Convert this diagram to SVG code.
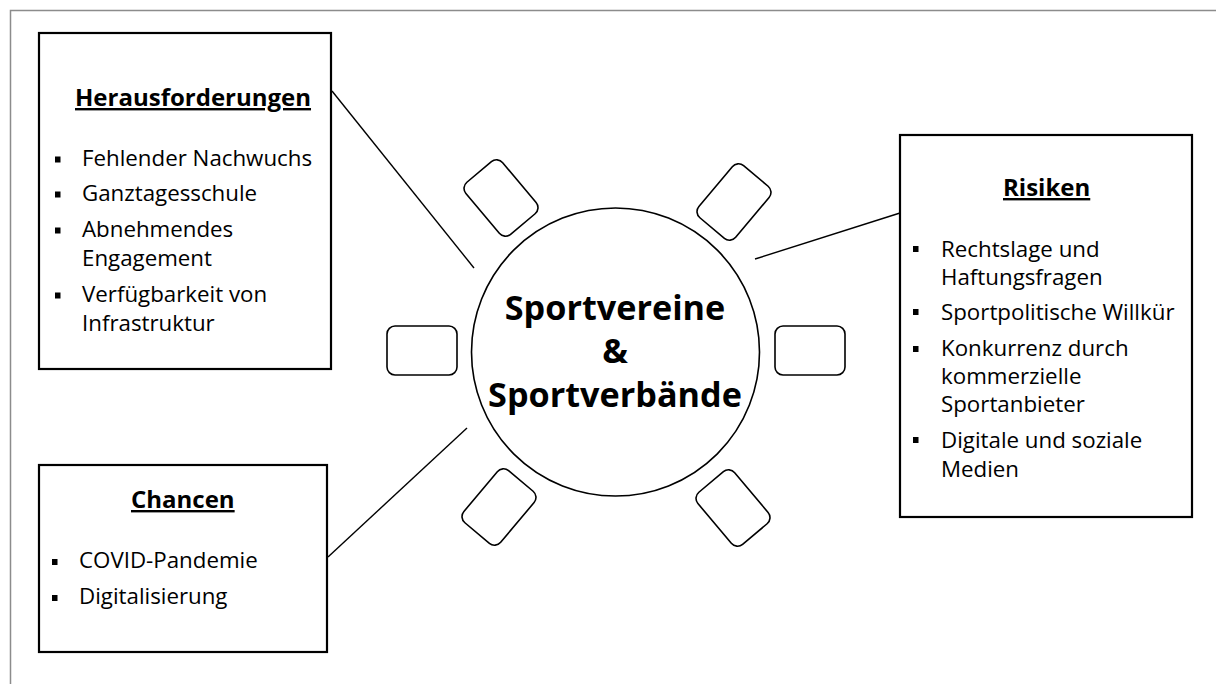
<svg xmlns="http://www.w3.org/2000/svg" width="1216" height="684" viewBox="0 0 1216 684">
<style>
.page{fill:none;stroke:#8c8c8c;stroke-width:1.5}
.box{fill:#fff;stroke:#000;stroke-width:2.2}
.chair{fill:#fff;stroke:#000;stroke-width:1.6}
.table{fill:#fff;stroke:#000;stroke-width:1.6}
.conn{stroke:#000;stroke-width:1.4;fill:none}
.t{font-family:"Open Sans","Noto Sans","Liberation Sans",sans-serif;font-size:22.3px;fill:#000}
.h{font-family:"Open Sans","Noto Sans","Liberation Sans",sans-serif;font-size:24px;font-weight:bold;fill:#000;text-decoration:underline}
.c{font-family:"Open Sans","Noto Sans","Liberation Sans",sans-serif;font-size:34.2px;font-weight:bold;fill:#000;text-anchor:middle}
.b{fill:#000}
</style>
<path class="page" d="M10.5 684 V10.5 H1216"/>
<g id="connectors">
<line class="conn" x1="332" y1="91" x2="474" y2="268"/>
<line class="conn" x1="755" y1="259" x2="900" y2="213"/>
<line class="conn" x1="328" y1="557" x2="467" y2="428"/>
</g>
<g id="table">
<rect class="chair" x="387" y="326" width="70" height="49" rx="8"/>
<rect class="chair" x="775" y="326" width="70" height="49" rx="8"/>
<rect class="chair" x="-24" y="-34" width="48" height="68" rx="8" transform="translate(501 198) rotate(-40)"/>
<rect class="chair" x="-24" y="-34" width="48" height="68" rx="8" transform="translate(734 202) rotate(40)"/>
<rect class="chair" x="-24" y="-34" width="48" height="68" rx="8" transform="translate(499 507) rotate(40)"/>
<rect class="chair" x="-24" y="-34" width="48" height="68" rx="8" transform="translate(733 508) rotate(-40)"/>
<circle class="table" cx="615.5" cy="352" r="144"/>
<text class="c" x="615" y="320">Sportvereine</text>
<text class="c" x="615" y="363">&amp;</text>
<text class="c" x="615" y="407">Sportverbände</text>
</g>
<g id="herausforderungen">
<rect class="box" x="39" y="33" width="292" height="336"/>
<text class="h" x="75" y="106">Herausforderungen</text>
<rect class="b" x="55" y="156.5" width="5.5" height="6"/>
<text class="t" x="82" y="166">Fehlender Nachwuchs</text>
<rect class="b" x="55" y="191.5" width="5.5" height="6"/>
<text class="t" x="82" y="201">Ganztagesschule</text>
<rect class="b" x="55" y="227.5" width="5.5" height="6"/>
<text class="t" x="82" y="237">Abnehmendes</text>
<text class="t" x="82" y="266">Engagement</text>
<rect class="b" x="55" y="292.5" width="5.5" height="6"/>
<text class="t" x="82" y="302">Verfügbarkeit von</text>
<text class="t" x="82" y="331">Infrastruktur</text>
</g>
<g id="risiken">
<rect class="box" x="900" y="135" width="292" height="382"/>
<text class="h" x="1003" y="196">Risiken</text>
<rect class="b" x="913" y="246" width="5.5" height="6"/>
<text class="t" x="941" y="257">Rechtslage und</text>
<text class="t" x="941" y="285">Haftungsfragen</text>
<rect class="b" x="913" y="309" width="5.5" height="6"/>
<text class="t" x="941" y="320">Sportpolitische Willkür</text>
<rect class="b" x="913" y="346" width="5.5" height="6"/>
<text class="t" x="941" y="356">Konkurrenz durch</text>
<text class="t" x="941" y="384">kommerzielle</text>
<text class="t" x="941" y="412">Sportanbieter</text>
<rect class="b" x="913" y="437" width="5.5" height="6"/>
<text class="t" x="941" y="448">Digitale und soziale</text>
<text class="t" x="941" y="477">Medien</text>
</g>
<g id="chancen">
<rect class="box" x="39" y="465" width="288" height="187"/>
<text class="h" x="131" y="508">Chancen</text>
<rect class="b" x="52" y="559" width="5.5" height="6"/>
<text class="t" x="79" y="568">COVID-Pandemie</text>
<rect class="b" x="52" y="595" width="5.5" height="6"/>
<text class="t" x="79" y="604">Digitalisierung</text>
</g>
</svg>
